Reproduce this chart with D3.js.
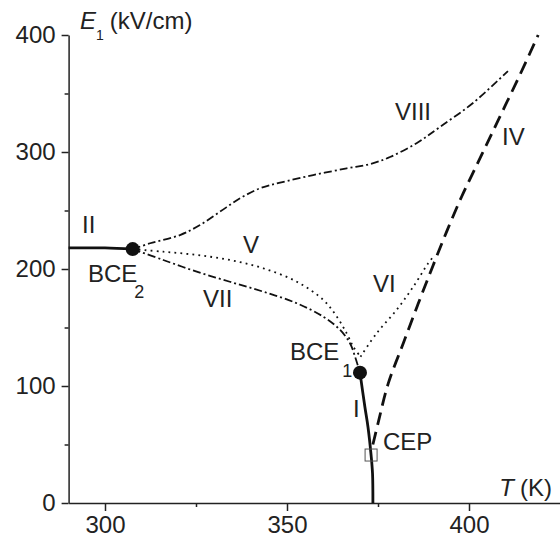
<!DOCTYPE html>
<html lang="en">

<head>
  <meta charset="UTF-8">
  <title>Phase diagram</title>
  <script src="https://d3js.org/d3.v7.min.js"></script>

  <style>
    body {
      margin: 0;
      background: #fff;
    }

    text {
      font-family: "Liberation Sans", Arial, Helvetica, sans-serif;
    }
  </style>

</head>

<body>

  <div id="chart"></div>

  <script>

    // tick values
    const xMajor = [300, 350, 400];
    const xMinor = [325, 375];
    const yMajor = [0, 100, 200, 300, 400];
    const yMinor = [50, 150, 250, 350];

    // curves, [T (K), E1 (kV/cm)]
    const lineII = [[290, 218], [300, 218], [307.6, 217]];
    const lineI = [[370.05, 111.4], [371.4, 82], [372.25, 65], [373.1, 41], [373.5, 25], [373.6, 0]];
    const lineVIII = [[307.6, 217], [312.4, 222], [320.6, 229], [326.1, 237.6], [331.6, 249], [337.1, 260.4],
      [342.6, 269], [348.1, 273.8], [357.2, 280.3], [366.4, 286], [372.8, 289.7], [378.3, 295.7],
      [385.7, 307.7], [392, 321.4], [401.1, 341.9], [410.7, 369.2]];
    const lineV = [[307.6, 217], [316, 214.8], [325.2, 212], [334.3, 207.7], [343.5, 200.6], [352.7, 189.1],
      [360, 173.5], [363.7, 159.2], [366.4, 145], [368.2, 133.6], [370.2, 125]];
    const lineVII = [[307.6, 217], [316, 207.7], [325.2, 197.7], [334.3, 189.1], [343.5, 180.6], [352.7, 170.7],
      [360, 159.2], [364.6, 147.9], [367.3, 136.5], [368.7, 125], [370.05, 111.4]];
    const lineVI = [[370.2, 125], [374.6, 145], [380.1, 165], [384.7, 184.9], [388.8, 204.9], [390.6, 212]];
    const lineIV = [[373.6, 50], [375, 68], [377.8, 102], [382, 137], [386, 170], [390, 202], [394, 233],
      [398, 262], [402, 288], [406, 314], [410, 340], [414, 366], [419, 400]];

    // special points
    const bcePoints = [[307.6, 217], [370.05, 111.4]];
    const cepPoint = [373.1, 41];

    const width = 560;
    const height = 539;

    const svg = d3.select('#chart')
      .append('svg')
      .attr('width', width)
      .attr('height', height);

    const x = d3.scaleLinear().domain([290, 425]).range([68.6, 560]);
    const y = d3.scaleLinear().domain([0, 400]).range([503, 35]);

    const axisColor = '#222';

    const styleAxis = g => {
      g.selectAll('path').attr('stroke', axisColor).attr('stroke-width', 1.5);
      g.selectAll('line').attr('stroke', axisColor).attr('stroke-width', 1.5);
      g.selectAll('text')
        .attr('fill', axisColor)
        .style('font-size', '24px')
        .style('font-family', '"Liberation Sans", Arial, sans-serif');
    };

    // x axis
    svg.append('g')
      .attr('transform', `translate(0,${y(0)})`)
      .call(d3.axisBottom(x).tickValues(xMajor).tickSize(8).tickSizeOuter(0).tickPadding(5))
      .call(styleAxis);

    svg.append('g')
      .attr('transform', `translate(0,${y(0)})`)
      .call(d3.axisBottom(x).tickValues(xMinor).tickSize(4).tickFormat(''))
      .call(g => g.select('.domain').remove())
      .call(styleAxis);

    // y axis
    svg.append('g')
      .attr('transform', `translate(${x(290)},0)`)
      .call(d3.axisLeft(y).tickValues(yMajor).tickSize(7).tickSizeOuter(0).tickPadding(6))
      .call(styleAxis);

    svg.append('g')
      .attr('transform', `translate(${x(290)},0)`)
      .call(d3.axisLeft(y).tickValues(yMinor).tickSize(4).tickFormat(''))
      .call(g => g.select('.domain').remove())
      .call(styleAxis);

    // axis titles
    const yTitle = svg.append('text')
      .attr('x', 80)
      .attr('y', 29)
      .attr('fill', axisColor)
      .style('font-size', '24px');
    yTitle.append('tspan').style('font-style', 'italic').text('E');
    yTitle.append('tspan').attr('dy', 11).style('font-size', '14px').text('1');
    yTitle.append('tspan').attr('dy', -11).attr('dx', 6).text('(kV/cm)');

    const xTitle = svg.append('text')
      .attr('x', 552)
      .attr('y', 496)
      .attr('text-anchor', 'end')
      .attr('fill', axisColor)
      .style('font-size', '24px');
    xTitle.append('tspan').style('font-style', 'italic').text('T');
    xTitle.append('tspan').attr('dx', 6).text('(K)');

    // curves
    const line = d3.line()
      .x(d => x(d[0]))
      .y(d => y(d[1]))
      .curve(d3.curveCatmullRom.alpha(0.5));

    const curves = [
      { data: lineII, width: 2.8, dash: null },
      { data: lineI, width: 2.8, dash: null },
      { data: lineVIII, width: 1.8, dash: '8,3,2,3' },
      { data: lineVII, width: 1.8, dash: '8,3,2,3' },
      { data: lineV, width: 1.8, dash: '1.8,4.2' },
      { data: lineVI, width: 1.8, dash: '1.8,4.2' },
      { data: lineIV, width: 2.8, dash: '13,7' }
    ];

    svg.selectAll('.curve')
      .data(curves)
      .enter()
      .append('path')
      .attr('class', 'curve')
      .attr('d', d => line(d.data))
      .attr('fill', 'none')
      .attr('stroke', '#111')
      .attr('stroke-width', d => d.width)
      .attr('stroke-dasharray', d => d.dash);

    // BCE points and CEP square
    svg.selectAll('.bce')
      .data(bcePoints)
      .enter()
      .append('circle')
      .attr('class', 'bce')
      .attr('cx', d => x(d[0]))
      .attr('cy', d => y(d[1]))
      .attr('r', 7)
      .attr('fill', '#111');

    svg.append('rect')
      .attr('x', x(cepPoint[0]) - 6)
      .attr('y', y(cepPoint[1]) - 6)
      .attr('width', 12)
      .attr('height', 12)
      .attr('fill', 'none')
      .attr('stroke', '#555')
      .attr('stroke-width', 1);

    // labels
    const labels = [
      { text: 'II', x: 82, y: 233 },
      { text: 'V', x: 243, y: 253 },
      { text: 'VII', x: 203, y: 307 },
      { text: 'VIII', x: 395, y: 120 },
      { text: 'IV', x: 502, y: 145 },
      { text: 'VI', x: 373, y: 292 },
      { text: 'I', x: 353, y: 417 },
      { text: 'CEP', x: 383, y: 450 }
    ];

    svg.selectAll('.lbl')
      .data(labels)
      .enter()
      .append('text')
      .attr('class', 'lbl')
      .attr('x', d => d.x)
      .attr('y', d => d.y)
      .attr('fill', axisColor)
      .style('font-size', '24px')
      .text(d => d.text);

    const subLabels = [
      { text: 'BCE', sub: '2', x: 88, y: 282, dy: 16, dx: -3 },
      { text: 'BCE', sub: '1', x: 290, y: 360, dy: 17, dx: 3 }
    ];

    subLabels.forEach(d => {
      const t = svg.append('text')
        .attr('x', d.x)
        .attr('y', d.y)
        .attr('fill', axisColor)
        .style('font-size', '24px');
      t.append('tspan').text(d.text);
      t.append('tspan')
        .attr('dy', d.dy)
        .attr('dx', d.dx)
        .style('font-size', '18px')
        .text(d.sub);
    });

  </script>

</body>

</html>
